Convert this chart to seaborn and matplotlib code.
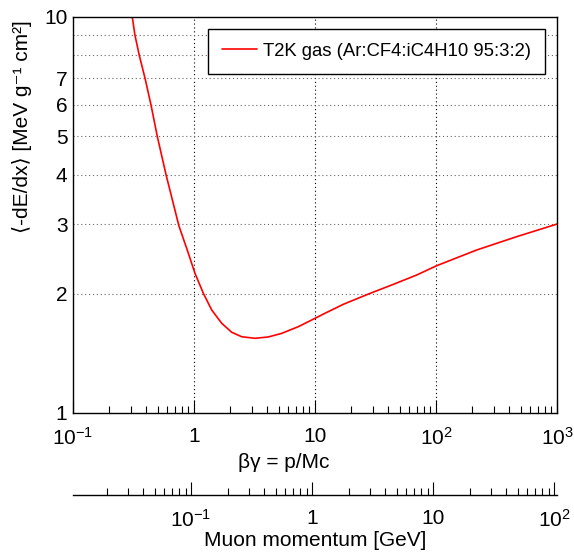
import numpy as np
import pandas as pd
import matplotlib
matplotlib.use("Agg")
import matplotlib.pyplot as plt
import seaborn as sns
from matplotlib.ticker import FixedLocator, NullFormatter, LogLocator

# ---- data ----
betagamma = [0.309, 0.325, 0.353, 0.394, 0.441, 0.497, 0.587, 0.75, 0.870,
             1.019, 1.194, 1.401, 1.694, 2.049, 2.479, 3.192, 4.11, 5.31, 7.28,
             10.0, 12.1, 17.1, 27.6, 44.4, 69.3, 101.3, 216.9, 464.5, 1000.0]
dedx = [10.0, 9.0, 8.0, 7.0, 6.0, 5.0, 4.0, 2.97, 2.605,
        2.253, 2.006, 1.820, 1.685, 1.599, 1.558, 1.544, 1.556, 1.589, 1.652,
        1.734, 1.786, 1.881, 1.997, 2.113, 2.231, 2.355, 2.580, 2.788, 3.0]
series_label = "T2K gas (Ar:CF4:iC4H10 95:3:2)"
muon_mass = 0.10566  # GeV

x_ticks = [0.1, 1, 10, 100, 1000]
x_ticklabels = ["$10^{-1}$", "1", "10", "$10^{2}$", "$10^{3}$"]
y_ticks = [1, 2, 3, 4, 5, 6, 7, 8, 9, 10]
y_ticklabels = ["1", "2", "3", "4", "5", "6", "7", "", "", "10"]
p_ticks = [0.1, 1, 10, 100]
p_ticklabels = ["$10^{-1}$", "1", "10", "$10^{2}$"]

df = pd.DataFrame({"bg": betagamma, "dedx": dedx})

sns.set_theme(style="white")
plt.rcParams["font.family"] = ["Liberation Sans", "DejaVu Sans"]
plt.rcParams["mathtext.fontset"] = "custom"
plt.rcParams["mathtext.rm"] = "Liberation Sans"
plt.rcParams["mathtext.it"] = "Liberation Sans:italic"
plt.rcParams["mathtext.bf"] = "Liberation Sans:bold"
plt.rcParams["axes.unicode_minus"] = True

W, H = 574, 557
fig = plt.figure(figsize=(W / 100, H / 100), dpi=100)
fig.patch.set_facecolor("white")

L, R, T, B = 73, 557, 17, 413
ax = fig.add_axes([L / W, 1 - B / H, (R - L) / W, (B - T) / H])
ax.set_facecolor("white")

sns.lineplot(data=df, x="bg", y="dedx", ax=ax, color="#ff0000", linewidth=1.2,
             label=series_label, estimator=None, sort=False)

ax.set_xscale("log")
ax.set_yscale("log")
ax.set_xlim(0.1, 1000)
ax.set_ylim(1, 10)

fs = 15
ax.set_xticks(x_ticks)
ax.set_xticklabels(x_ticklabels, fontsize=fs)
ax.xaxis.set_minor_locator(LogLocator(base=10, subs=np.arange(2, 10)))
ax.xaxis.set_minor_formatter(NullFormatter())
ax.set_yticks(y_ticks)
ax.set_yticklabels(y_ticklabels, fontsize=fs)
ax.yaxis.set_minor_locator(FixedLocator([]))
ax.yaxis.set_minor_formatter(NullFormatter())

ax.tick_params(axis="x", which="major", direction="in", length=9.4, width=0.8,
               color="black", pad=10, labelcolor="black")
ax.tick_params(axis="x", which="minor", direction="in", length=4.8, width=0.8,
               color="black")
ax.tick_params(axis="y", which="major", direction="in", length=0, width=0.8,
               pad=4, labelcolor="black")
ax.tick_params(which="both", bottom=True, left=True, top=False, right=False)

# grid
for xv in [1, 10, 100]:
    ax.axvline(xv, color="black", linewidth=0.8, linestyle=(0, (1, 2.5)), zorder=0.5)
for yv in [2, 3, 4, 5, 6, 7, 8, 9]:
    ax.axhline(yv, color="#666666", linewidth=0.8, linestyle=(0, (1, 2.5)), zorder=0.5)

for s in ax.spines.values():
    s.set_color("black")
    s.set_linewidth(1.0)
    s.set_visible(True)

ax.set_xlabel("βγ = p/Mc", fontsize=fs, color="black")
ax.xaxis.set_label_coords((284 - L) / (R - L), (B - 462) / (B - T))
ax.xaxis.label.set_va("center")
ax.set_ylabel("⟨-dE/dx⟩ [MeV g⁻¹ cm²]", fontsize=fs, color="black")
ax.yaxis.set_label_coords((22 - L) / (R - L), (B - 127) / (B - T))
ax.yaxis.label.set_va("center")
ax.yaxis.label.set_ha("center")

leg = ax.legend(loc="upper right", bbox_to_anchor=((545 - L) / (R - L), (B - 29) / (B - T)),
                borderaxespad=0, fontsize=13.3, frameon=True, fancybox=False,
                framealpha=1, edgecolor="black", handlelength=1.9,
                borderpad=0.75, handletextpad=0.35)
leg.get_frame().set_linewidth(1.0)
for t in leg.get_texts():
    t.set_color("black")

# secondary (muon momentum) axis
ya = 495
ax2 = fig.add_axes([L / W, 1 - ya / H, (R - L) / W, 0.0005])
ax2.patch.set_visible(False)
for k in ["left", "right", "top"]:
    ax2.spines[k].set_visible(False)
ax2.spines["bottom"].set_color("black")
ax2.spines["bottom"].set_linewidth(1.0)
ax2.set_xscale("log")
ax2.set_xlim(0.1 * muon_mass, 1000 * muon_mass)
ax2.set_yticks([])
ax2.set_xticks(p_ticks)
ax2.set_xticklabels(p_ticklabels, fontsize=fs)
ax2.xaxis.set_minor_locator(LogLocator(base=10, subs=np.arange(2, 10)))
ax2.xaxis.set_minor_formatter(NullFormatter())
ax2.tick_params(axis="x", which="major", direction="in", length=9.4, width=0.8,
                color="black", pad=10, labelcolor="black")
ax2.tick_params(axis="x", which="minor", direction="in", length=4.8, width=0.8,
                color="black")
ax2.tick_params(which="both", bottom=True, top=False, left=False, right=False)
ax2.set_xlabel("Muon momentum [GeV]", fontsize=fs, color="black", labelpad=0)

fig.savefig("out.png", dpi=100)
